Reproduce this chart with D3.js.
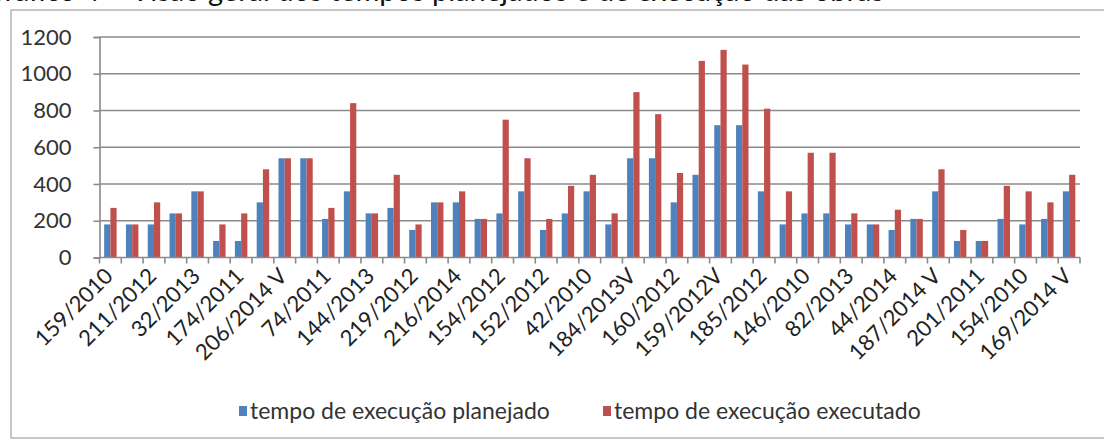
<!DOCTYPE html>
<html>
<head>
<meta charset="utf-8">
<script src="https://cdn.jsdelivr.net/npm/d3@7"></script>
<style>
  html, body { margin: 0; padding: 0; background: #fff; }
  svg { display: block; }
  text { font-family: Lato, "Open Sans", sans-serif; fill: #222; }
</style>
</head>
<body>
<svg id="chart" width="1104" height="448"></svg>
<script>
// Obra identifiers (only every other one is printed on the axis)
const tickLabels = [
  "159/2010", "", "211/2012", "", "32/2013", "", "174/2011", "", "206/2014 V", "",
  "74/2011", "", "144/2013", "", "219/2012", "", "216/2014", "", "154/2012", "",
  "152/2012", "", "42/2010", "", "184/2013V", "", "160/2012", "", "159/2012V", "",
  "185/2012", "", "146/2010", "", "82/2013", "", "44/2014", "", "187/2014 V", "",
  "201/2011", "", "154/2010", "", "169/2014 V"
];

// Tempo de execução planejado (dias)
const planejado = [
  180, 180, 180, 240, 360, 90, 90, 300, 540, 540,
  210, 360, 240, 270, 150, 300, 300, 210, 240, 360,
  150, 240, 360, 180, 540, 540, 300, 450, 720, 720,
  360, 180, 240, 240, 180, 180, 150, 210, 360, 90,
  90, 210, 180, 210, 360
];

// Tempo de execução executado (dias)
const executado = [
  270, 180, 300, 240, 360, 180, 240, 480, 540, 540,
  270, 840, 240, 450, 180, 300, 360, 210, 750, 540,
  210, 390, 450, 240, 900, 780, 460, 1070, 1130, 1050,
  810, 360, 570, 570, 240, 180, 260, 210, 480, 150,
  90, 390, 360, 300, 450
];

const yTicks = [0, 200, 400, 600, 800, 1000, 1200];
const seriesNames = ["tempo de execução planejado", "tempo de execução executado"];
const seriesColors = ["#4F81BD", "#C0504D"];

const svg = d3.select("#chart");
const plot = { left: 99.5, right: 1080, top: 37, bottom: 257.5 };

// Outer chart frame
svg.append("rect")
  .attr("x", 11).attr("y", 10)
  .attr("width", 1120).attr("height", 428)
  .attr("fill", "none").attr("stroke", "#b4b4b4").attr("stroke-width", 1.5);

// Title line (runs above the frame)
const title = svg.append("text")
  .attr("y", 1)
  .attr("font-size", 29)
  .style("fill", "#111")
  .text("Gráfico 4 – Visão geral dos tempos planejados e de execução das obras");
{
  const s = title.text();
  const w = title.node().getSubStringLength(0, s.indexOf("geral"));
  title.attr("x", 208 - w);
}

const x0 = d3.scaleBand()
  .domain(d3.range(tickLabels.length))
  .range([plot.left, plot.right])
  .paddingInner(0).paddingOuter(0);

const x1 = d3.scaleBand()
  .domain([0, 1])
  .range([0, x0.bandwidth()])
  .paddingInner(0).paddingOuter(0.75);

const y = d3.scaleLinear().domain([0, 1200]).range([plot.bottom, plot.top]);

// Horizontal gridlines
svg.append("g").selectAll("line")
  .data(yTicks.filter(d => d > 0))
  .join("line")
  .attr("x1", plot.left).attr("x2", plot.right)
  .attr("y1", d => y(d)).attr("y2", d => y(d))
  .attr("stroke", "#8a8a8a").attr("stroke-width", 1.6);

// Y axis
const yAxis = svg.append("g")
  .attr("transform", `translate(${plot.left},0)`)
  .call(d3.axisLeft(y).tickValues(yTicks).tickSize(6).tickPadding(22).tickFormat(d3.format("d")));
yAxis.select(".domain").attr("stroke", "#8a8a8a").attr("stroke-width", 1.6);
yAxis.selectAll(".tick line").attr("stroke", "#8a8a8a").attr("stroke-width", 1.6);
yAxis.selectAll(".tick text")
  .attr("font-family", "Lato, 'Open Sans', sans-serif")
  .attr("font-size", 22).style("fill", "#333");

// Bars
const series = [planejado, executado];
const groups = svg.append("g").selectAll("g")
  .data(d3.range(tickLabels.length))
  .join("g")
  .attr("transform", i => `translate(${x0(i)},0)`);

groups.selectAll("rect")
  .data(i => series.map((vals, s) => ({ s, v: vals[i] })))
  .join("rect")
  .attr("x", d => x1(d.s))
  .attr("width", x1.bandwidth())
  .attr("y", d => y(d.v))
  .attr("height", d => y(0) - y(d.v))
  .attr("fill", d => seriesColors[d.s]);

// X axis with tick marks at category boundaries
const xAxisG = svg.append("g");
xAxisG.append("line")
  .attr("x1", plot.left).attr("x2", plot.right)
  .attr("y1", y(0)).attr("y2", y(0))
  .attr("stroke", "#8a8a8a").attr("stroke-width", 1.6);
xAxisG.selectAll("line.tk")
  .data(d3.range(tickLabels.length + 1))
  .join("line")
  .attr("class", "tk")
  .attr("x1", i => plot.left + i * x0.step())
  .attr("x2", i => plot.left + i * x0.step())
  .attr("y1", y(0)).attr("y2", y(0) + 6)
  .attr("stroke", "#8a8a8a").attr("stroke-width", 1.6);

xAxisG.selectAll("text")
  .data(d3.range(tickLabels.length).filter(i => tickLabels[i] !== ""))
  .join("text")
  .attr("transform", i => `translate(${x0(i) + x0.bandwidth() / 2 - 7},${y(0) + 9}) rotate(-45)`)
  .attr("text-anchor", "end")
  .attr("dy", "0.7em")
  .attr("font-size", 22)
  .style("fill", "#222")
  .text(i => tickLabels[i]);

// Legend
const legend = svg.append("g");
const legendX = [239, 603];
seriesNames.forEach((name, s) => {
  const g = legend.append("g").attr("transform", `translate(${legendX[s]},406)`);
  g.append("rect").attr("width", 8).attr("height", 10).attr("fill", seriesColors[s]);
  g.append("text").attr("x", 11).attr("y", 5).attr("dy", "0.35em")
    .attr("font-size", 23).style("fill", "#333").text(name);
});
</script>
</body>
</html>
